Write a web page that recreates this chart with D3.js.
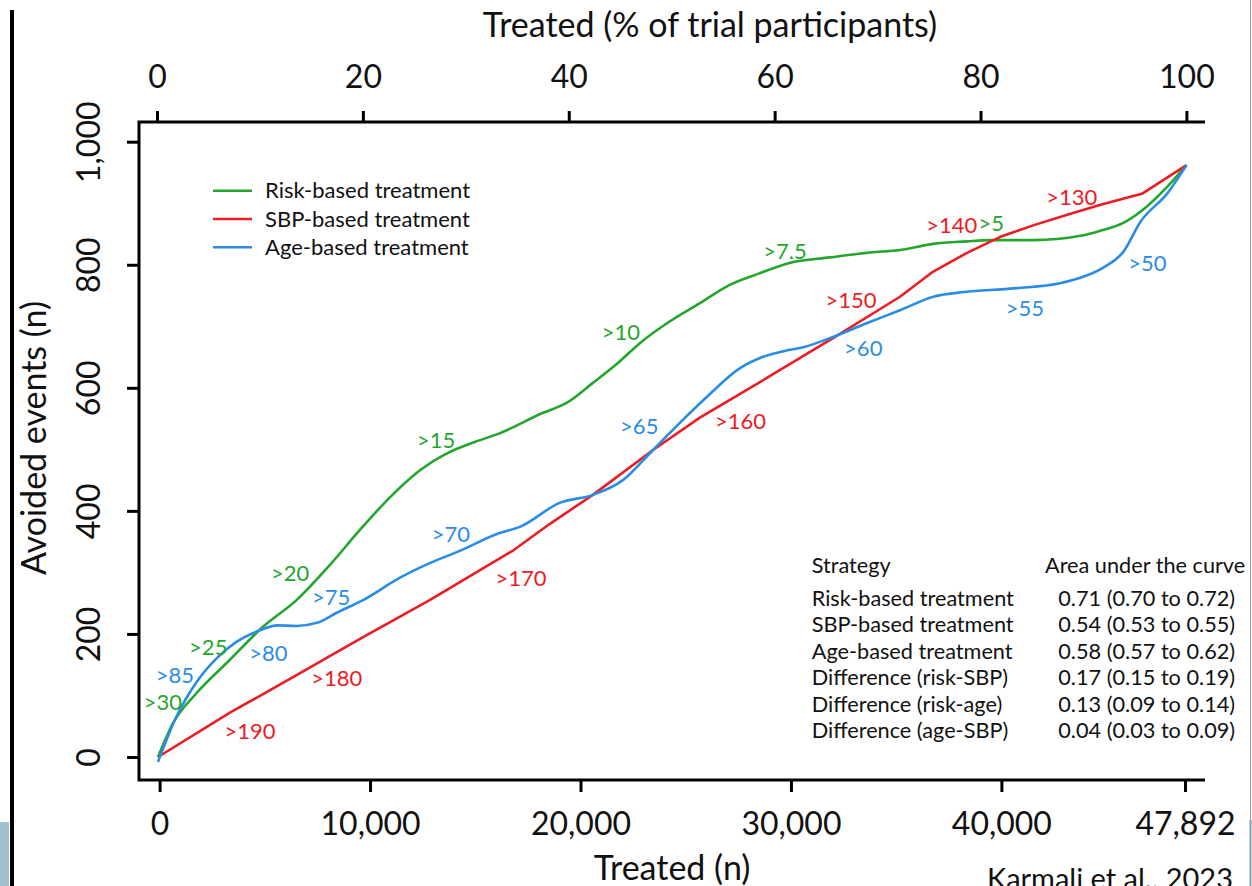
<!DOCTYPE html>
<html>
<head>
<meta charset="utf-8">
<script src="https://cdn.jsdelivr.net/npm/d3@7"></script>
<style>
  html, body { margin: 0; padding: 0; background: #fff; }
  svg { display: block; font-family: Lato, "Open Sans", sans-serif; }
</style>
</head>
<body>
<script>
// ---- Data: cumulative avoided events vs. number treated ----
const totalTreated = 47892;

const riskN      = [0, 700, 1800, 3350, 4900, 6450, 8000, 9400, 10800, 12200, 13600, 14750, 15900, 17900, 19000, 20250, 21400, 22450, 23700, 25250, 26600, 28000, 29400, 31300, 33150, 34550, 36100, 37650, 38750, 40750, 42950, 43850, 44950, 45850, 47000, 47892];
const riskEvents = [0, 55, 104, 158, 212, 255, 312, 369, 422, 466, 496, 512, 526, 559, 575, 608, 640, 673, 705, 738, 767, 786, 803, 812, 820, 824, 834, 838, 840, 840, 847, 855, 868, 889, 927, 962];

const sbpN      = [0, 3350, 6450, 9550, 12650, 16550, 18250, 20250, 23050, 25250, 28350, 31450, 34550, 36100, 37650, 39200, 40750, 42300, 43850, 45850, 47892];
const sbpEvents = [0, 72, 133, 195, 255, 336, 379, 426, 499, 552, 616, 681, 748, 789, 819, 845, 864, 881, 897, 916, 962];

const ageN      = [0, 850, 1800, 2750, 3650, 4750, 5550, 6450, 7400, 8300, 9550, 11250, 12650, 14050, 15900, 16850, 18700, 20250, 21650, 23050, 24300, 25550, 27100, 28150, 29300, 30050, 31300, 33000, 34550, 36100, 37650, 40000, 42000, 43050, 44000, 44950, 45750, 47000, 47892];
const ageEvents = [-8, 65, 122, 161, 187, 206, 214, 213, 218, 234, 255, 291, 315, 335, 364, 374, 413, 426, 450, 499, 543, 585, 632, 650, 661, 666, 681, 705, 726, 748, 756, 762, 770, 780, 795, 821, 870, 916, 962];

// Threshold annotations along each curve (label, treated n, avoided events)
const riskLabels = [">30", ">25", ">20", ">15", ">10", ">7.5", ">5"];
const riskLabelN = [230, 2340, 6150, 12950, 21550, 29200, 38800];
const riskLabelE = [89, 179, 299, 514, 691, 822, 867];

const sbpLabels = [">190", ">180", ">170", ">160", ">150", ">140", ">130"];
const sbpLabelN = [4280, 8320, 16900, 27130, 32270, 36960, 42550];
const sbpLabelE = [41, 128, 291, 545, 743, 864, 910];

const ageLabels = [">85", ">80", ">75", ">70", ">65", ">60", ">55", ">50"];
const ageLabelN = [790, 5140, 8060, 13640, 22410, 32840, 40370, 46070];
const ageLabelE = [133, 168, 260, 362, 538, 665, 729, 802];

// Axis ticks
const yTicks = [0, 200, 400, 600, 800, 1000];
const topTicks = [0, 20, 40, 60, 80, 100];
const bottomTicks = [0, 10000, 20000, 30000, 40000, 47892];

// Legend and summary table
const seriesNames = ["Risk-based treatment", "SBP-based treatment", "Age-based treatment"];
const tableHeader = ["Strategy", "Area under the curve"];
const strategyNames = ["Risk-based treatment", "SBP-based treatment", "Age-based treatment",
                       "Difference (risk-SBP)", "Difference (risk-age)", "Difference (age-SBP)"];
const aucValues = ["0.71 (0.70 to 0.72)", "0.54 (0.53 to 0.55)", "0.58 (0.57 to 0.62)",
                   "0.17 (0.15 to 0.19)", "0.13 (0.09 to 0.14)", "0.04 (0.03 to 0.09)"];

// ---- Layout ----
const W = 1252, H = 886;
const frame = { left: 139, right: 1205, top: 122, bottom: 780 };
const colors = { risk: "#24a62e", sbp: "#ec1c24", age: "#2b8ce6" };
const textColor = "#111";

const svg = d3.select("body").append("svg").attr("width", W).attr("height", H);

// Scales
const x = d3.scaleLinear().domain([0, totalTreated]).range([158, 1186.5]);
const y = d3.scaleLinear().domain([0, 1000]).range([757, 141.7]);
const xTop = d3.scaleLinear().domain([0, 100]).range([157, 1186.4]);
// bottom tick scale follows the printed tick spacing
const xBottom = d3.scaleLinear().domain([0, 40000, totalTreated]).range([159.6, 1001.4, 1185]);

// Slide decorations
svg.append("rect").attr("x", 10).attr("y", 10).attr("width", 4).attr("height", H - 10).attr("fill", "#000");
svg.append("rect").attr("x", 0).attr("y", 822).attr("width", 9).attr("height", H - 822).attr("fill", "#a3bfd0");

// Frame (left, top, bottom)
svg.append("path")
  .attr("d", `M${frame.right},${frame.top} H${frame.left} V${frame.bottom} H${frame.right}`)
  .attr("fill", "none").attr("stroke", "#000").attr("stroke-width", 3);

function styleAxis(g) {
  g.select(".domain").remove();
  g.selectAll(".tick line").attr("stroke", "#000").attr("stroke-width", 3);
  g.selectAll(".tick text").attr("fill", textColor).style("font-size", "32px").style("font-family", "Lato, sans-serif");
}

// Left axis
const gy = svg.append("g").attr("transform", `translate(${frame.left},0)`)
  .call(d3.axisLeft(y).tickValues(yTicks).tickSize(12).tickSizeOuter(0).tickFormat(d3.format(",")));
styleAxis(gy);
gy.selectAll(".tick text")
  .attr("transform", "rotate(-90)")
  .attr("x", 0).attr("y", -50).attr("dy", "0.35em")
  .attr("text-anchor", "middle");

// Top axis
const gt = svg.append("g").attr("transform", `translate(0,${frame.top})`)
  .call(d3.axisTop(xTop).tickValues(topTicks).tickSize(11).tickSizeOuter(0));
styleAxis(gt);
gt.selectAll(".tick text").attr("y", -45).attr("dy", "0.35em");

// Bottom axis
const gb = svg.append("g").attr("transform", `translate(0,${frame.bottom})`)
  .call(d3.axisBottom(xBottom).tickValues(bottomTicks).tickSize(12).tickSizeOuter(0).tickFormat(d3.format(",")));
styleAxis(gb);
gb.selectAll(".tick text").attr("y", 44).attr("dy", "0.35em");

// Axis titles
svg.append("text").attr("x", 710).attr("y", 25).attr("dy", "0.35em").attr("text-anchor", "middle")
  .style("font-size", "34px").attr("fill", textColor).text("Treated (% of trial participants)");
svg.append("text").attr("x", 672).attr("y", 868).attr("dy", "0.35em").attr("text-anchor", "middle")
  .style("font-size", "34px").attr("fill", textColor).text("Treated (n)");
svg.append("text").attr("transform", "translate(34,438) rotate(-90)").attr("dy", "0.35em")
  .attr("text-anchor", "middle").style("font-size", "34px").attr("fill", textColor).text("Avoided events (n)");
svg.append("text").attr("x", 987).attr("y", 889).style("font-size", "29px").attr("fill", textColor)
  .text("Karmali et al., 2023");

// Right-hand slide edge
svg.append("rect").attr("x", 1249).attr("y", 820).attr("width", 3).attr("height", H - 820).attr("fill", "#b5cddc");
svg.append("line").attr("x1", 1250.5).attr("x2", 1250.5).attr("y1", 0).attr("y2", H)
  .attr("stroke", "#9a9a9a").attr("stroke-width", 1);

// Curves
const series = [
  { key: "risk", n: riskN, e: riskEvents, curve: d3.curveMonotoneX },
  { key: "sbp", n: sbpN, e: sbpEvents, curve: d3.curveLinear },
  { key: "age", n: ageN, e: ageEvents, curve: d3.curveMonotoneX }
];
series.forEach(s => {
  const pts = s.n.map((v, i) => [v, s.e[i]]);
  svg.append("path")
    .datum(pts)
    .attr("fill", "none")
    .attr("stroke", colors[s.key])
    .attr("stroke-width", 2.6)
    .attr("stroke-linejoin", "round")
    .attr("d", d3.line().x(d => x(d[0])).y(d => y(d[1])).curve(s.curve));
});

// Threshold labels
const labelSets = [
  { key: "risk", t: riskLabels, n: riskLabelN, e: riskLabelE },
  { key: "sbp", t: sbpLabels, n: sbpLabelN, e: sbpLabelE },
  { key: "age", t: ageLabels, n: ageLabelN, e: ageLabelE }
];
labelSets.forEach(s => {
  svg.append("g").selectAll("text")
    .data(s.t.map((t, i) => ({ t, n: s.n[i], e: s.e[i] })))
    .join("text")
    .attr("x", d => x(d.n)).attr("y", d => y(d.e)).attr("dy", "0.35em")
    .attr("text-anchor", "middle")
    .style("font-size", "22px")
    .attr("fill", colors[s.key])
    .text(d => d.t);
});

// Legend
const legend = svg.append("g").attr("transform", "translate(213,190.7)");
seriesNames.forEach((name, i) => {
  const key = ["risk", "sbp", "age"][i];
  const row = legend.append("g").attr("transform", `translate(0,${i * 28.3})`);
  row.append("line").attr("x1", 0).attr("x2", 39).attr("y1", 0).attr("y2", 0)
    .attr("stroke", colors[key]).attr("stroke-width", 2.6);
  row.append("text").attr("x", 52).attr("dy", "0.35em").style("font-size", "22px").attr("fill", textColor).text(name);
});

// Summary table
const table = svg.append("g").attr("transform", "translate(811.7,565)");
table.append("text").attr("x", 0).attr("dy", "0.35em").style("font-size", "21.7px").attr("fill", textColor).text(tableHeader[0]);
table.append("text").attr("x", 233.3).attr("dy", "0.35em").style("font-size", "21.7px").attr("fill", textColor).text(tableHeader[1]);
strategyNames.forEach((name, i) => {
  const ry = 33.3 + i * 26.5;
  table.append("text").attr("x", 0).attr("y", ry).attr("dy", "0.35em").style("font-size", "21.7px").attr("fill", textColor).text(name);
  table.append("text").attr("x", 246.6).attr("y", ry).attr("dy", "0.35em").style("font-size", "21.7px").attr("fill", textColor).text(aucValues[i]);
});
</script>
</body>
</html>
